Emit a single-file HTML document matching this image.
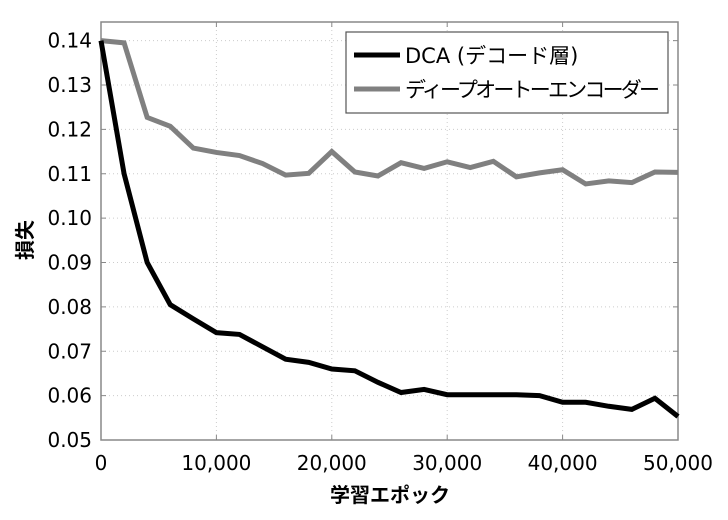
<!DOCTYPE html>
<html><head><meta charset="utf-8"><style>
body{margin:0;background:#fff}
svg text{font-family:"DejaVu Sans","Noto Sans CJK JP",sans-serif}
</style></head><body>
<svg id="c" width="728" height="515" xmlns="http://www.w3.org/2000/svg"></svg>
<script>
const xs=[0,2000,4000,6000,8000,10000,12000,14000,16000,18000,20000,22000,24000,26000,28000,30000,32000,34000,36000,38000,40000,42000,44000,46000,48000,50000];
const dca=[0.140,0.110,0.090,0.0805,0.0773,0.0742,0.0738,0.0710,0.0682,0.0675,0.0660,0.0656,0.0630,0.0607,0.0614,0.0602,0.0602,0.0602,0.0602,0.0600,0.0585,0.0585,0.0576,0.0569,0.0594,0.0553];
const dae=[0.140,0.1395,0.1227,0.1207,0.1158,0.1148,0.1141,0.1123,0.1097,0.1101,0.1150,0.1104,0.1095,0.1125,0.1112,0.1127,0.1114,0.1128,0.1093,0.1102,0.1109,0.1077,0.1084,0.1080,0.1104,0.1103];
const xTicks=[0,10000,20000,30000,40000,50000];
const xTickLabels=["0","10,000","20,000","30,000","40,000","50,000"];
const yTicks=[0.05,0.06,0.07,0.08,0.09,0.10,0.11,0.12,0.13,0.14];
const yTickLabels=["0.05","0.06","0.07","0.08","0.09","0.10","0.11","0.12","0.13","0.14"];
const L=101,R=678,T=22,B=440,ymin=0.05,ymax=0.1442;
const X=v=>L+(v-0)/50000*(R-L);
const Y=v=>B-(v-ymin)/(ymax-ymin)*(B-T);
const svg=document.getElementById('c');const NS="http://www.w3.org/2000/svg";
function mk(t,a,txt){const e=document.createElementNS(NS,t);for(const k in a)e.setAttribute(k,a[k]);if(txt!=null)e.textContent=txt;svg.appendChild(e);return e;}
xTicks.forEach((v,i)=>{
 const g=mk('line',{x1:X(v),x2:X(v),y1:T,y2:B,stroke:'#ccc','stroke-dasharray':'1,3'});
 
 
 const t=mk('line',{x1:X(v),x2:X(v),y1:B,y2:B-5,stroke:'#888'});
 
 
 const tt=mk('line',{x1:X(v),x2:X(v),y1:T,y2:T+5,stroke:'#888'});
 
 
 const lb=mk('text',{x:X(v),y:470,'text-anchor':'middle','font-size':'20'},xTickLabels[i]);
 
 
});
yTicks.forEach((v,i)=>{
 const g=mk('line',{x1:L,x2:R,y1:Y(v),y2:Y(v),stroke:'#ccc','stroke-dasharray':'1,3'});
 
 
 const t=mk('line',{x1:L,x2:L+5,y1:Y(v),y2:Y(v),stroke:'#888'});
 
 
 const tr=mk('line',{x1:R,x2:R-5,y1:Y(v),y2:Y(v),stroke:'#888'});
 
 
 const lb=mk('text',{x:92,y:Y(v)+7,'text-anchor':'end','font-size':'20'},yTickLabels[i]);
 
 
});
const fr=mk('rect',{x:L,y:T,width:R-L,height:B-T,fill:'none',stroke:'#888','stroke-width':1.5});


function line(arr,col,name){
 const p=mk('polyline',{points:arr.map((v,i)=>X(xs[i])+','+Y(v)).join(' '),fill:'none',stroke:col,'stroke-width':5,'stroke-linejoin':'miter'});
 
 
}
line(dae,'#808080','series-deep-autoencoder');
line(dca,'#000','series-dca');
const lg=mk('rect',{x:346,y:32,width:322,height:81,fill:'#fff',stroke:'#555','stroke-width':1.2});


const l1=mk('line',{x1:354,x2:400,y1:55,y2:55,stroke:'#000','stroke-width':5});


const t1=mk('text',{x:405,y:63,'font-size':'21'},'DCA (デコード層)');


const l2=mk('line',{x1:354,x2:400,y1:89,y2:89,stroke:'#808080','stroke-width':5});


const t2=mk('text',{x:405,y:97,'font-size':'21','textLength':'255'},'ディープオートーエンコーダー');


const xt=mk('text',{x:390,y:502,'text-anchor':'middle','font-size':'20','font-weight':'bold'},'学習エポック');


const yt=mk('text',{x:0,y:0,'text-anchor':'middle','font-size':'20','font-weight':'bold',transform:'translate(32,240) rotate(-90)'},'損失');


</script>
</body></html>
